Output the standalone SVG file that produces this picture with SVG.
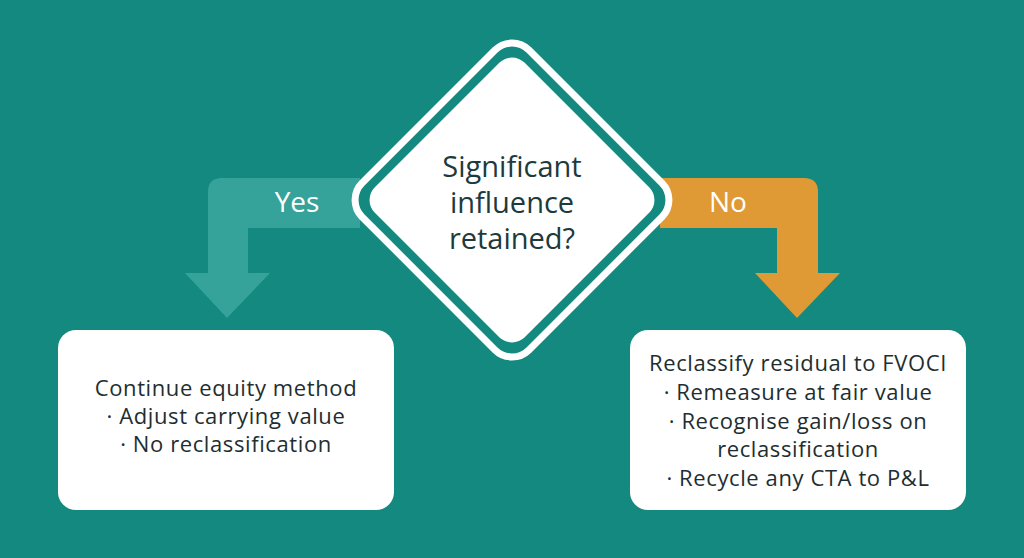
<svg xmlns="http://www.w3.org/2000/svg" width="1024" height="558" viewBox="0 0 1024 558">
<style>
.t{font-family:"Open Sans","Noto Sans",sans-serif;text-anchor:middle}
.box{fill:#fff}
.bt{font-size:22px;letter-spacing:0.6px;fill:#1e2e30}
.lab{font-size:28px;fill:#fff}
</style>
<rect width="1024" height="558" fill="#13897f"/>
<g id="connectors">
<path d="M230 178 H360 V228 H248 V273 H270 L227 318 L185 273 H208 V192 Q208 178 222 178 Z" fill="#35a39a"/>
<path d="M660 178 H804 Q818 178 818 192 V273 H840 L797 318 L755 273 H777 V228 H660 Z" fill="#e09a35"/>
<text class="t lab" x="297" y="212">Yes</text>
<text class="t lab" x="728" y="212">No</text>
</g>
<g id="decision">
<rect x="394" y="82" width="236" height="236" rx="24" transform="rotate(45 512 200)" fill="#13897f" stroke="#fff" stroke-width="7"/>
<rect x="406" y="94" width="212" height="212" rx="18" transform="rotate(45 512 200)" fill="#fff"/>
<text class="t" font-size="29" fill="#1e3a3c"><tspan x="512" y="177">Significant</tspan><tspan x="512" y="213">influence</tspan><tspan x="512" y="249">retained?</tspan></text>
</g>
<g id="yes-box">
<rect class="box" x="58" y="330" width="336" height="180" rx="18"/>
<text class="t bt"><tspan x="226" y="396">Continue equity method</tspan><tspan x="226" y="424">· Adjust carrying value</tspan><tspan x="226" y="452">· No reclassification</tspan></text>
</g>
<g id="no-box">
<rect class="box" x="630" y="330" width="336" height="180" rx="18"/>
<text class="t bt"><tspan x="798" y="371">Reclassify residual to FVOCI</tspan><tspan x="798" y="400">· Remeasure at fair value</tspan><tspan x="798" y="429">· Recognise gain/loss on</tspan><tspan x="798" y="457">reclassification</tspan><tspan x="798" y="486">· Recycle any CTA to P&amp;L</tspan></text>
</g>
</svg>
